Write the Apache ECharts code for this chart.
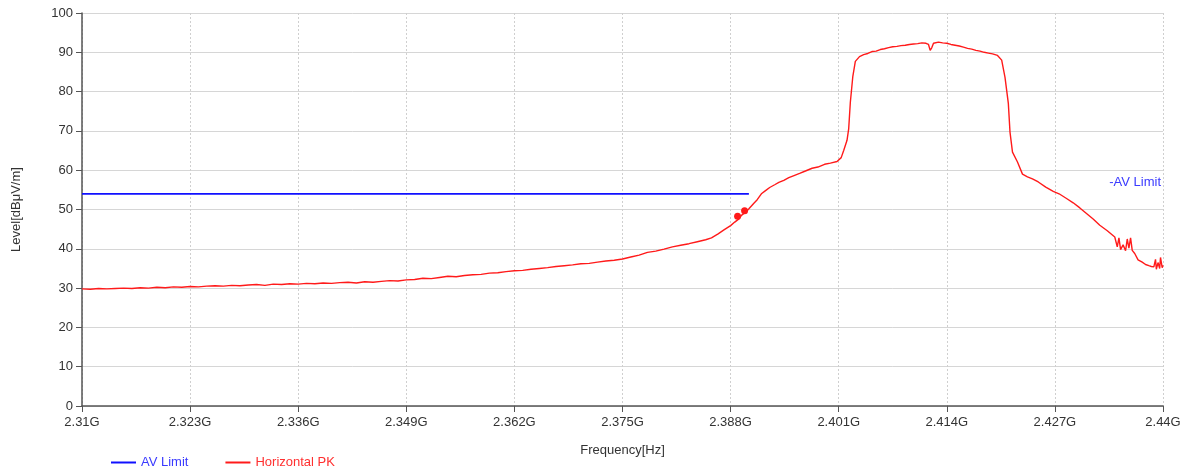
<!DOCTYPE html>
<html>
<head>
<meta charset="utf-8">
<script src="https://cdn.jsdelivr.net/npm/echarts@6/dist/echarts.min.js"></script>
<style>
  html, body { margin: 0; padding: 0; background: #ffffff; }
  #chart { width: 1190px; height: 471px; }
</style>
</head>
<body>
<div id="chart"></div>
<script>
// ---- data (frequency in GHz, level in dBμV/m) ----
const xTickLabels = ['2.31G','2.323G','2.336G','2.349G','2.362G','2.375G','2.388G','2.401G','2.414G','2.427G','2.44G'];
const yTickValues = [0,10,20,30,40,50,60,70,80,90,100];

const avLimitFreq = [2.310, 2.3902];
const avLimitLevel = [54, 54];

const pkMarkers = [[2.38884, 48.3], [2.38968, 49.7]];

const pkTrace = [
  [2.310,29.8],[2.311,29.7],[2.312,29.9],[2.313,29.8],[2.314,29.9],[2.315,30.0],[2.316,29.9],[2.317,30.1],
  [2.318,30.0],[2.319,30.2],[2.320,30.1],[2.321,30.3],[2.322,30.2],[2.323,30.4],[2.324,30.3],[2.325,30.5],
  [2.326,30.6],[2.327,30.5],[2.328,30.7],[2.329,30.6],[2.330,30.8],[2.331,30.9],[2.332,30.7],[2.333,31.0],
  [2.334,30.9],[2.335,31.1],[2.336,31.0],[2.337,31.2],[2.338,31.1],[2.339,31.3],[2.340,31.2],[2.341,31.4],
  [2.342,31.5],[2.343,31.3],[2.344,31.6],[2.345,31.5],[2.346,31.7],[2.347,31.9],[2.348,31.8],[2.349,32.1],
  [2.350,32.2],[2.351,32.5],[2.352,32.4],[2.353,32.7],[2.354,33.0],[2.355,32.9],[2.356,33.2],[2.357,33.4],
  [2.358,33.5],[2.359,33.8],[2.360,33.9],[2.361,34.2],[2.362,34.4],[2.363,34.5],[2.364,34.8],[2.365,35.0],
  [2.366,35.2],[2.367,35.5],[2.368,35.7],[2.369,35.9],[2.370,36.2],[2.371,36.3],[2.372,36.6],[2.373,36.9],
  [2.374,37.1],[2.375,37.4],[2.376,37.9],[2.377,38.4],[2.378,39.1],[2.379,39.4],[2.380,39.9],[2.381,40.5],
  [2.382,40.9],[2.383,41.3],[2.384,41.8],[2.385,42.3],[2.3857,42.8],[2.3865,43.8],[2.3872,44.8],[2.388,45.9],
  [2.3885,46.8],[2.389,47.6],[2.3893,48.5],[2.3898,49.3],[2.3902,50.2],[2.3908,51.6],[2.3912,52.5],[2.3917,54.0],
  [2.3922,54.8],[2.3927,55.6],[2.3933,56.3],[2.3938,56.9],[2.3944,57.4],[2.3950,58.1],[2.3957,58.7],[2.3963,59.2],
  [2.3970,59.8],[2.3978,60.5],[2.3985,60.8],[2.3993,61.5],[2.4000,61.8],[2.4008,62.2],[2.4013,63.2],[2.4016,65.0],
  [2.4020,67.6],[2.4022,70.5],[2.4024,77.3],[2.4027,83.9],[2.4030,87.7],[2.4035,88.9],[2.4040,89.4],[2.4045,89.7],
  [2.4050,90.2],[2.4055,90.3],[2.4060,90.7],[2.4065,90.9],[2.4070,91.2],[2.4075,91.4],[2.4080,91.5],[2.4085,91.7],
  [2.4090,91.8],[2.4095,92.0],[2.4100,92.1],[2.4105,92.2],[2.4110,92.4],[2.4115,92.3],[2.4118,92.0],[2.4120,90.5],
  [2.4122,91.2],[2.4124,92.3],[2.4130,92.6],[2.4135,92.4],[2.4140,92.3],[2.4145,92.0],[2.4150,91.8],[2.4155,91.6],
  [2.4160,91.3],[2.4165,91.0],[2.4170,90.8],[2.4175,90.5],[2.4180,90.3],[2.4185,90.0],[2.4190,89.8],[2.4195,89.6],
  [2.4201,89.2],[2.4206,88.0],[2.4210,83.6],[2.4214,77.0],[2.4216,69.7],[2.4219,64.6],[2.4225,62.1],[2.4231,59.0],
  [2.4237,58.3],[2.4243,57.8],[2.4250,57.0],[2.4259,55.7],[2.4268,54.6],[2.4275,54.0],[2.4284,52.8],[2.4292,51.7],
  [2.4300,50.4],[2.4308,49.0],[2.4316,47.6],[2.4324,46.0],[2.4333,44.6],[2.4342,43.0],[2.4345,40.5],[2.4347,42.8],
  [2.4349,39.8],[2.4352,41.0],[2.4355,39.5],[2.4357,42.5],[2.4359,40.2],[2.4361,42.8],[2.4363,39.6],[2.4366,38.8],
  [2.4370,37.2],[2.4375,36.6],[2.4379,36.0],[2.4383,35.7],[2.4386,35.5],[2.4389,35.4],[2.4391,37.3],[2.4392,34.8],
  [2.4394,36.5],[2.4396,35.0],[2.4397,37.8],[2.4399,35.2],[2.4400,35.8]
];

// ---- axis helpers: x plotted as MHz offset from 2310 MHz so ticks fall at 0,13,...,130 ----
const F0_MHZ = 2310;
const toX = f => f * 1000 - F0_MHZ;

const FONT = '"Liberation Sans", Arial, sans-serif';
const BLUE = '#1010ff';
const RED = '#ff1a1a';

const chart = echarts.init(document.getElementById('chart'), null, { renderer: 'canvas' });

const option = {
  backgroundColor: '#ffffff',
  animation: false,
  textStyle: { fontFamily: FONT },
  grid: { left: 82, right: 27, top: 13, bottom: 65, containLabel: false, outerBoundsMode: 'none' },
  legend: {
    left: 106, top: 451,
    icon: 'rect', itemWidth: 25, itemHeight: 2, itemGap: 37,
    textStyle: { fontSize: 13, fontFamily: FONT },
    data: [
      { name: 'AV Limit', textStyle: { color: '#3a3aff' } },
      { name: 'Horizontal PK', textStyle: { color: '#ff3030' } }
    ]
  },
  xAxis: {
    type: 'value',
    min: 0, max: 130, interval: 13,
    name: 'Frequency[Hz]', nameLocation: 'middle', nameGap: 38,
    nameTextStyle: { fontSize: 13, color: '#333', fontFamily: FONT },
    axisLine: { show: true, lineStyle: { color: '#555', width: 1.5 } },
    axisTick: { show: true, inside: false, length: 6, lineStyle: { color: '#555' } },
    axisLabel: {
      fontSize: 13, color: '#333', margin: 10, fontFamily: FONT,
      formatter: (v) => xTickLabels[Math.round(v / 13)]
    },
    splitLine: { show: true, lineStyle: { color: '#cfcfcf', type: [2, 2], width: 1 } }
  },
  yAxis: {
    type: 'value',
    min: 0, max: 100, interval: 10,
    name: 'Level[dBμV/m]', nameLocation: 'middle', nameGap: 59, nameRotate: 90,
    nameTextStyle: { fontSize: 13, color: '#333', fontFamily: FONT },
    axisLine: { show: true, lineStyle: { color: '#555', width: 1.5 } },
    axisTick: { show: true, inside: false, length: 6, lineStyle: { color: '#555' } },
    axisLabel: { fontSize: 13, color: '#333', margin: 9, fontFamily: FONT,
      formatter: (v) => String(yTickValues[Math.round(v / 10)]) },
    splitLine: { show: true, lineStyle: { color: '#d6d6d6', width: 1 } }
  },
  series: [
    {
      name: 'AV Limit',
      type: 'line',
      showSymbol: false,
      symbol: 'none',
      color: BLUE,
      lineStyle: { color: BLUE, width: 1.8 },
      data: avLimitFreq.map((f, i) => [toX(f), avLimitLevel[i]]),
      markPoint: {
        symbol: 'circle', symbolSize: 0,
        label: { show: true, position: 'left', distance: 2, formatter: '-AV Limit',
          color: '#3a3aff', fontSize: 13, fontFamily: FONT },
        data: [{ coord: [toX(2.44), 56.8] }]
      },
      z: 3
    },
    {
      name: 'Horizontal PK',
      type: 'line',
      showSymbol: false,
      symbol: 'none',
      color: RED,
      lineStyle: { color: RED, width: 1.4 },
      data: pkTrace.map(p => [toX(p[0]), p[1]]),
      markPoint: {
        symbol: 'circle', symbolSize: 7,
        itemStyle: { color: RED },
        label: { show: false },
        data: pkMarkers.map(p => ({ coord: [toX(p[0]), p[1]] }))
      },
      z: 4
    }
  ]
};

chart.setOption(option);
</script>
</body>
</html>
